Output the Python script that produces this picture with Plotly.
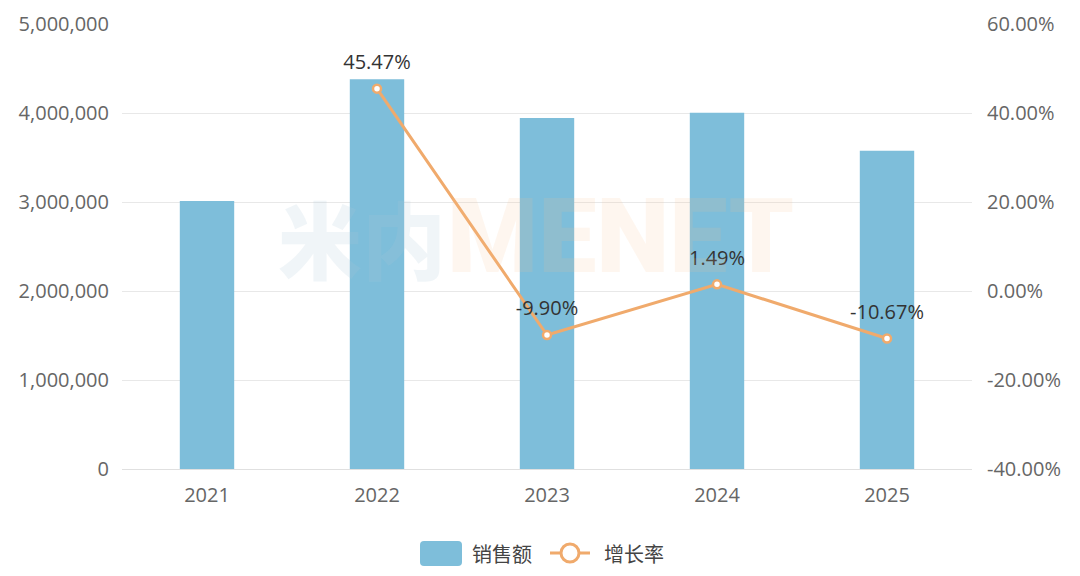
import plotly.graph_objects as go

years = ["2021", "2022", "2023", "2024", "2025"]
sales = [3010000, 4378000, 3945000, 4004000, 3577000]
growth = [None, 45.47, -9.90, 1.49, -10.67]
growth_labels = ["", "45.47%", "-9.90%", "1.49%", "-10.67%"]

left_ticks = [0, 1000000, 2000000, 3000000, 4000000, 5000000]
left_ticktext = ["0", "1,000,000", "2,000,000", "3,000,000", "4,000,000", "5,000,000"]
right_ticks = [-40, -20, 0, 20, 40, 60]
right_ticktext = ["-40.00%", "-20.00%", "0.00%", "20.00%", "40.00%", "60.00%"]

FONT = "Open Sans, Noto Sans CJK SC, sans-serif"
CJK = "Noto Sans CJK SC, sans-serif"
BAR_C = "#7EBEDA"
LINE_C = "#F0AA6C"

# plot area in pixels
L, R, T, B = 122, 972, 24, 469
def px(x):
    return (x - L) / (R - L)
def py(y):
    return (B - y) / (B - T)

fig = go.Figure()
fig.add_trace(go.Bar(
    x=years, y=sales, name="销售额", marker=dict(color=BAR_C, line=dict(width=0)),
    width=0.32, yaxis="y", showlegend=False,
))
fig.add_trace(go.Scatter(
    x=years, y=growth, name="增长率", yaxis="y2",
    mode="lines+markers", line=dict(color=LINE_C, width=3),
    marker=dict(size=8, color="white", line=dict(color=LINE_C, width=2.5)),
    connectgaps=False, showlegend=False,
))
fig.add_trace(go.Scatter(
    x=years, y=growth, yaxis="y2", mode="markers+text", text=growth_labels,
    textposition="top center", textfont=dict(size=20, color="#333333", family=FONT),
    marker=dict(size=22, color="rgba(0,0,0,0)"),
    showlegend=False, hoverinfo="skip",
))

# watermark
fig.add_annotation(x=px(362), y=py(236), xref="paper", yref="paper", text="米内",
                   xanchor="center", yanchor="middle",
                   showarrow=False, font=dict(size=84, color="rgba(170,200,215,0.18)", family=CJK, weight=900))
fig.add_annotation(x=px(620), y=py(236), xref="paper", yref="paper", text="MENET",
                   xanchor="center", yanchor="middle",
                   showarrow=False, font=dict(size=104, color="rgba(250,190,140,0.14)", family="Roboto, Arial", weight=900))

# custom legend
r = 4
x0, x1 = px(420), px(462)
y0, y1 = py(566), py(541)
rx, ry = r / (R - L), r / (B - T)
path = (f"M {x0+rx},{y0} L {x1-rx},{y0} Q {x1},{y0} {x1},{y0+ry} L {x1},{y1-ry} Q {x1},{y1} {x1-rx},{y1} "
        f"L {x0+rx},{y1} Q {x0},{y1} {x0},{y1-ry} L {x0},{y0+ry} Q {x0},{y0} {x0+rx},{y0} Z")
fig.add_shape(type="path", path=path, xref="paper", yref="paper", fillcolor=BAR_C,
              line=dict(width=0), layer="above")
fig.add_shape(type="line", x0=px(550), x1=px(590), y0=py(553), y1=py(553), xref="paper", yref="paper",
              line=dict(color=LINE_C, width=3), layer="above")
fig.add_shape(type="circle", x0=px(561), x1=px(579), y0=py(562), y1=py(544), xref="paper", yref="paper",
              fillcolor="white", line=dict(color=LINE_C, width=3), layer="above")
fig.add_annotation(x=px(470), y=py(553), xref="paper", yref="paper", text="销售额",
                   xanchor="left", yanchor="middle",
                   showarrow=False, font=dict(size=20, color="#444444", family=CJK))
fig.add_annotation(x=px(602), y=py(553), xref="paper", yref="paper", text="增长率",
                   xanchor="left", yanchor="middle",
                   showarrow=False, font=dict(size=20, color="#444444", family=CJK))

fig.update_layout(
    width=1080, height=576,
    margin=dict(l=L, r=1080 - R, t=T, b=576 - B, autoexpand=False),
    paper_bgcolor="white", plot_bgcolor="white",
    font=dict(family=FONT, size=18, color="#666666"),
    xaxis=dict(type="category", showgrid=False, showline=True, linecolor="#E0E0E0", linewidth=1,
               ticks="", tickfont=dict(size=20, color="#666666"), ticklabelstandoff=8),
    yaxis=dict(range=[0, 5000000], tickvals=left_ticks, ticktext=left_ticktext,
               showgrid=True, gridcolor="#E8E8E8", gridwidth=1, zeroline=False, showline=False,
               tickfont=dict(size=20, color="#666666"), ticklabelstandoff=12),
    yaxis2=dict(range=[-40, 60], tickvals=right_ticks, ticktext=right_ticktext, overlaying="y",
                side="right", showgrid=False, zeroline=False, showline=False,
                tickfont=dict(size=20, color="#666666"), ticklabelstandoff=14),
    showlegend=False,
)

fig.write_html("out.html")
